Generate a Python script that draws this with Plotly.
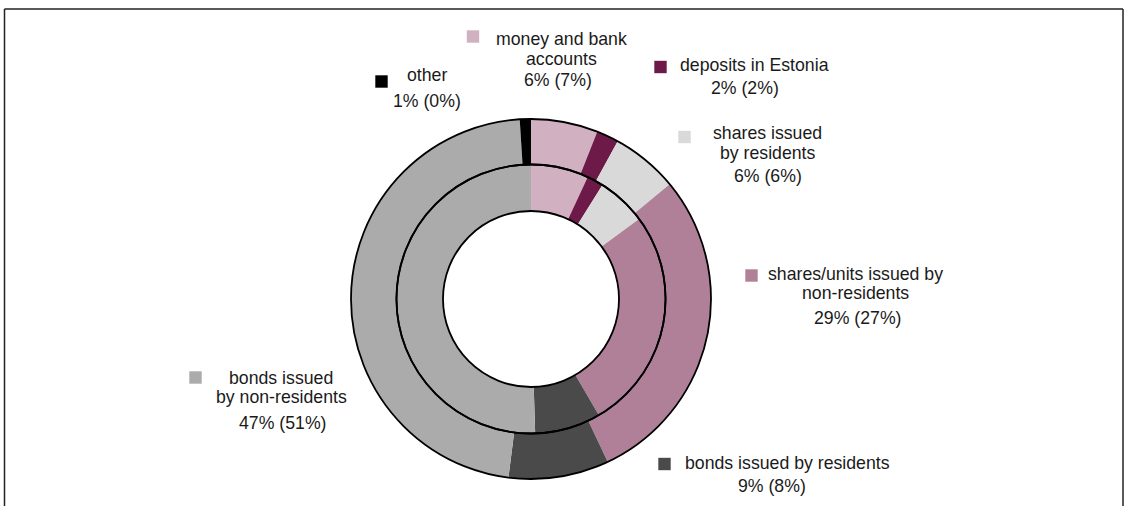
import plotly.graph_objects as go

# ---- data ----
categories = ["money and bank accounts", "deposits in Estonia", "shares issued by residents",
              "shares/units issued by non-residents", "bonds issued by residents",
              "bonds issued by non-residents", "other"]
label_lines = [["money and bank", "accounts"], ["deposits in Estonia"], ["shares issued", "by residents"],
               ["shares/units issued by", "non-residents"], ["bonds issued by residents"],
               ["bonds issued", "by non-residents"], ["other"]]
current = [6, 2, 6, 29, 9, 47, 1]      # outer ring
previous = [7, 2, 6, 27, 8, 51, 0]     # inner ring (in brackets)
colors = ["#D1B0C2", "#6E1A48", "#D9D9D9", "#B08099", "#4A4A4A", "#ABABAB", "#000000"]

# ---- layout helpers ----
W, H = 1132, 506
def px(x): return x / W
def py(y): return 1 - y / H

CX, CY = 531, 299
R_OUT, R_MID, R_HOLE = 180, 134.5, 88

def dom(r):
    return dict(x=[px(CX - r), px(CX + r)], y=[py(CY + r), py(CY - r)])

# label placement: square centre, name x, name line ys, value centre
label_pos = [
    dict(sq=(473, 36.5), nx=561, ny=[39, 59], v=(558, 80)),
    dict(sq=(660.5, 67), nx=754, ny=[65], v=(745, 88)),
    dict(sq=(684.5, 137), nx=767.5, ny=[133, 153], v=(767.5, 176)),
    dict(sq=(751.5, 275.5), nx=855, ny=[274, 293], v=(857.5, 318)),
    dict(sq=(664.5, 464), nx=787.5, ny=[463], v=(771.5, 486)),
    dict(sq=(195.5, 377.5), nx=281, ny=[378, 397], v=(282.5, 423)),
    dict(sq=(381.5, 81.5), nx=427, ny=[75], v=(427, 101)),
]

fig = go.Figure()

common = dict(labels=categories, sort=False, direction="clockwise", rotation=0,
              textinfo="none", marker=dict(colors=colors, line=dict(width=0)), showlegend=False)
fig.add_trace(go.Pie(values=current, domain=dom(R_OUT), hole=R_MID / R_OUT, **common))
fig.add_trace(go.Pie(values=previous, domain=dom(R_MID), hole=R_HOLE / R_MID, **common))

# ring outlines (full-circle single slices with transparent fill)
for r, h in [(R_OUT, R_MID / R_OUT), (R_MID, R_HOLE / R_MID)]:
    fig.add_trace(go.Pie(values=[1], labels=["ring"], domain=dom(r), hole=h, sort=False,
                         textinfo="none", hoverinfo="skip", showlegend=False,
                         marker=dict(colors=["rgba(0,0,0,0)"], line=dict(color="#000000", width=1.8))))

font = dict(family="Liberation Sans, Arial, sans-serif", size=17.7, color="#1a1a1a")
annotations = []
shapes = []
for i, pos in enumerate(label_pos):
    sx, sy = pos["sq"]
    shapes.append(dict(type="rect", xref="paper", yref="paper",
                       x0=px(sx - 6.2), x1=px(sx + 6.2), y0=py(sy + 6.2), y1=py(sy - 6.2),
                       fillcolor=colors[i], line=dict(width=0)))
    for line, yy in zip(label_lines[i], pos["ny"]):
        annotations.append(dict(text=line, x=px(pos["nx"]), y=py(yy), xref="paper", yref="paper",
                                xanchor="center", yanchor="middle", showarrow=False, font=font))
    vx, vy = pos["v"]
    annotations.append(dict(text=f"{current[i]}% ({previous[i]}%)", x=px(vx), y=py(vy),
                            xref="paper", yref="paper", xanchor="center", yanchor="middle",
                            showarrow=False, font=font))

# frame
frame = dict(color="#222222", width=1.5)
shapes += [
    dict(type="line", xref="paper", yref="paper", x0=px(4.5), x1=px(1123), y0=py(9), y1=py(9), line=frame),
    dict(type="line", xref="paper", yref="paper", x0=px(4.5), x1=px(4.5), y0=py(9), y1=py(520), line=frame),
    dict(type="line", xref="paper", yref="paper", x0=px(1123), x1=px(1123), y0=py(9), y1=py(520), line=frame),
]

fig.update_layout(width=W, height=H, margin=dict(l=0, r=0, t=0, b=0),
                  paper_bgcolor="white", plot_bgcolor="white",
                  annotations=annotations, shapes=shapes, showlegend=False)

fig.write_html("out.html")
